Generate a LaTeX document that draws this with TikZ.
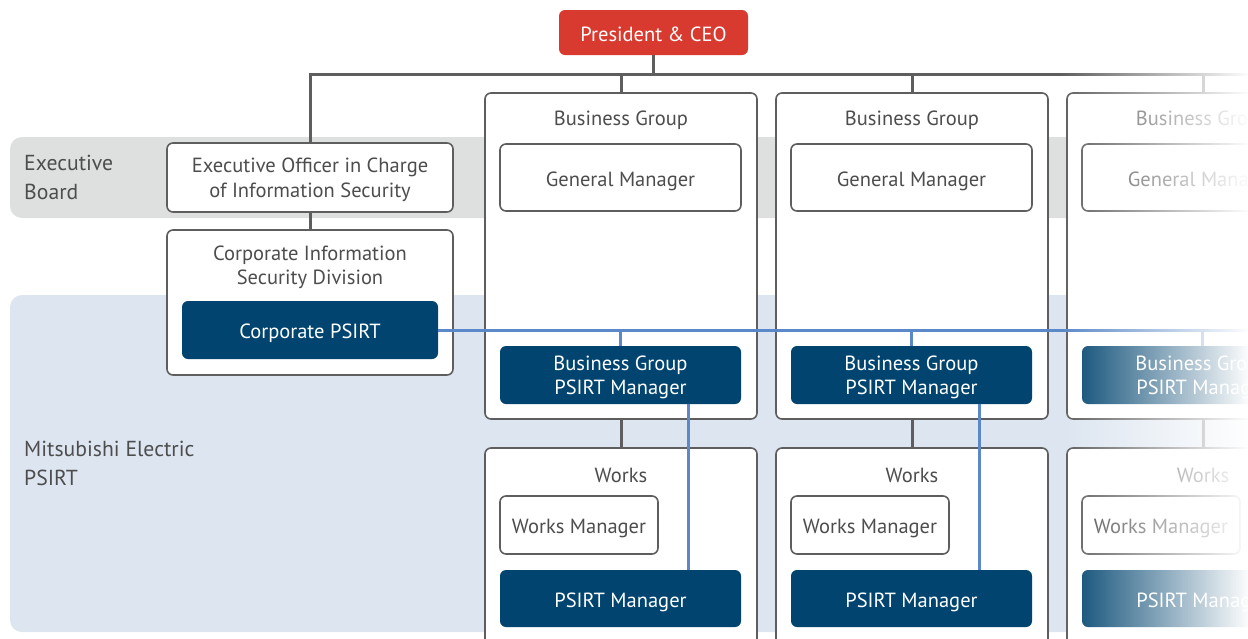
\documentclass[tikz,border=0pt]{standalone}
\usepackage{fontspec}
\setmainfont{PT Sans}
\usetikzlibrary{fadings}
\definecolor{navy}{HTML}{00446F}
\definecolor{ceored}{HTML}{D93A2F}
\definecolor{linegray}{HTML}{5E5E5E}
\definecolor{txtgray}{HTML}{4D4D4D}
\definecolor{psblue}{HTML}{5B88C8}
\definecolor{bandgray}{HTML}{DEDFDF}
\definecolor{bandblue}{HTML}{DCE5F0}
\newcommand\fsz{\fontsize{20.5}{24.5}\selectfont}
\newcommand\fbig{\fontsize{21.7}{29}\selectfont}
\tikzset{
  box/.style={draw=linegray, line width=1.6pt, rounded corners=6pt, fill=white, inner sep=0pt, text=txtgray, font=\fsz, align=center},
  darkbox/.style={fill=navy, rounded corners=6pt, text=white, inner sep=0pt, font=\fsz, align=center},
  ceobox/.style={fill=ceored, rounded corners=6pt, text=white, inner sep=0pt, font=\fsz},
  one/.style={text height=17pt, text depth=0pt},
  two/.style={text depth=0pt},
  title/.style={text=txtgray, font=\fsz, align=center, inner sep=0pt},
  bandtext/.style={text=txtgray, font=\fbig, align=left, anchor=west, inner sep=0pt},
  orgline/.style={draw=linegray, line width=3pt},
  psline/.style={draw=psblue, line width=3pt},
}
\begin{document}
\begin{tikzpicture}[x=1pt,y=-1pt]
\useasboundingbox (0,0) rectangle (1248,638);
\clip (0,0) rectangle (1248,638);
% bands
\fill[bandgray, rounded corners=12pt] (10,137) rectangle (1300,218);
\fill[bandblue, rounded corners=12pt] (10,295) rectangle (1300,632);
\node[bandtext] (eb) at (24,177.5) {Executive\\Board};
\node[bandtext] (mep) at (24,463) {Mitsubishi Electric\\PSIRT};
% top
\node[ceobox, one, minimum width=189pt, minimum height=45pt] (ceo) at (653.5,32.5) {President \& CEO};
\coordinate (tl) at (310,74);
\coordinate (tr) at (1300,74);
\coordinate (br) at (1300,330);
% left column
\node[box, minimum width=286pt, minimum height=69pt, text depth=0pt] (exo) at (310,177.5) {Executive Officer in Charge\\of Information Security};
\node[box, minimum width=286pt, minimum height=145pt] (cisd) at (310,302.5) {};
\node[title] (cisdt) at (310,267.5) {Corporate Information\\Security Division};
\node[darkbox, one, minimum width=256pt, minimum height=58pt] (cpsirt) at (310,330) {Corporate PSIRT};
\draw[orgline] (exo.north) -- (tl) -- (tr);
\draw[orgline] (ceo.south) -- (ceo.south |- tl);
\draw[orgline] (exo.south) -- (cisd.north);
% columns
\foreach \i/\dx in {1/0,2/291,3/582}{
  \node[box, minimum width=272pt, minimum height=326pt] (bg\i) at (621+\dx,256) {};
  \node[box, minimum width=272pt, minimum height=240pt] (wk\i) at (621+\dx,568) {};
  \draw[orgline] (bg\i.north) -- (bg\i.north |- tl);
  \draw[orgline] (bg\i.south) -- (wk\i.north);
  \node[title] (bgt\i) at (621+\dx,120) {Business Group};
  \node[box, one, minimum width=241pt, minimum height=67pt] (gm\i) at (620.5+\dx,177.5) {General Manager};
  \node[darkbox, two, minimum width=241pt, minimum height=58pt] (bgpm\i) at (620.5+\dx,375) {Business Group\\PSIRT Manager};
  \node[title] (wkt\i) at (621+\dx,475.5) {Works};
  \node[box, one, minimum width=158pt, minimum height=58pt] (wm\i) at (579+\dx,525) {Works Manager};
  \node[darkbox, one, minimum width=241pt, minimum height=57pt] (pm\i) at (620.5+\dx,598.5) {PSIRT Manager};
  \draw[psline] (bgpm\i.north) -- (bgpm\i.north |- br);
  \draw[psline] ([xshift=67.5pt]bgpm\i.south) -- ([xshift=67.5pt]bgpm\i.south |- pm\i.north);
}
\draw[psline] (cpsirt.east) -- (br);
% fade to white at the right
\fill[white, path fading=west] (1060,-5) rectangle (1250,645);
\end{tikzpicture}
\end{document}
